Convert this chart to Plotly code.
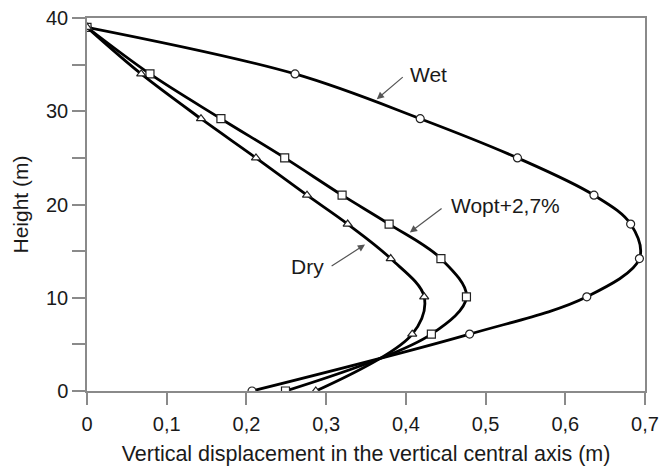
import plotly.graph_objects as go

heights = [0, 6.1, 10.1, 14.2, 17.9, 21.0, 25.0, 29.2, 34.0, 39.0]
wet = [0.207, 0.480, 0.627, 0.693, 0.682, 0.636, 0.540, 0.418, 0.261, 0.0]
wopt = [0.249, 0.432, 0.476, 0.444, 0.379, 0.320, 0.248, 0.168, 0.079, 0.0]
dry = [0.287, 0.408, 0.423, 0.381, 0.327, 0.276, 0.212, 0.143, 0.068, 0.0]

x_tickvals = [0, 0.1, 0.2, 0.3, 0.4, 0.5, 0.6, 0.7]
x_ticktext = ["0", "0,1", "0,2", "0,3", "0,4", "0,5", "0,6", "0,7"]
y_tickvals = [0, 10, 20, 30, 40]

FONT = "Liberation Sans, Arial, sans-serif"
TXT = "#1a1a1a"
AX = "#8a8a8a"

fig = go.Figure()
for name, xs, sym in [("Wet", wet, "circle"), ("Wopt+2,7%", wopt, "square"), ("Dry", dry, "triangle-up")]:
    fig.add_trace(go.Scatter(
        x=xs, y=heights, mode="lines+markers", name=name,
        line=dict(color="black", width=2.8, shape="spline", smoothing=1.0),
        marker=dict(symbol=sym, size=8, color="white", line=dict(color="#222", width=1.2)),
        showlegend=False,
    ))

labels = [
    dict(text="Wet", x=0.428, y=33.9, hx=0.3635, hy=31.3, tx=0.398, ty=33.8),
    dict(text="Wopt+2,7%", x=0.5245, y=19.9, hx=0.405, hy=17.0, tx=0.4467, ty=19.7),
    dict(text="Dry", x=0.276, y=13.3, hx=0.3488, hy=15.7, tx=0.305, ty=13.3),
]
for lb in labels:
    fig.add_annotation(x=lb["x"], y=lb["y"], text=lb["text"], showarrow=False,
                       font=dict(family=FONT, size=21, color=TXT))
    fig.add_annotation(x=lb["hx"], y=lb["hy"], ax=lb["tx"], ay=lb["ty"],
                       axref="x", ayref="y", text="", showarrow=True,
                       arrowhead=2, arrowsize=1.2, arrowwidth=1.2, arrowcolor="#555")

fig.update_layout(
    width=661, height=466,
    margin=dict(l=87, r=16, t=18, b=75),
    paper_bgcolor="white", plot_bgcolor="white",
    font=dict(family=FONT, size=21, color=TXT),
)
fig.update_xaxes(
    range=[0, 0.7], tickvals=x_tickvals, ticktext=x_ticktext,
    showgrid=False, zeroline=False, automargin=False,
    showline=True, linecolor=AX, linewidth=1.5, mirror=True,
    ticks="outside", ticklen=12, tickcolor=AX, tickwidth=1.5,
    ticklabelstandoff=2,
    tickfont=dict(size=20, color=TXT),
    title=dict(text="Vertical displacement in the vertical central axis (m)", font=dict(size=21.5, color=TXT), standoff=14),
)
fig.update_yaxes(
    range=[0, 40], tickvals=y_tickvals,
    showgrid=False, zeroline=False, automargin=False,
    showline=True, linecolor=AX, linewidth=1.5, mirror=True,
    ticks="outside", ticklen=13, tickcolor=AX, tickwidth=1.5,
    minor=dict(dtick=5, ticks="outside", ticklen=13, tickcolor=AX, tickwidth=1.5, showgrid=False),
    tickfont=dict(size=20, color=TXT),
    title=dict(text="Height (m)", font=dict(size=21, color=TXT), standoff=12),
)
fig.write_html("out.html")
